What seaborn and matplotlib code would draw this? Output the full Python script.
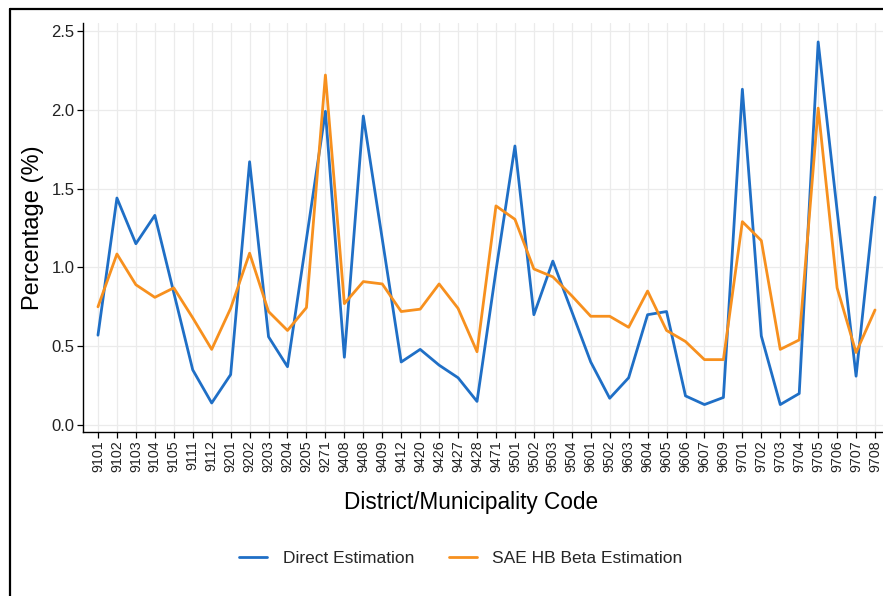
import matplotlib
matplotlib.use("Agg")
import matplotlib.pyplot as plt
from matplotlib.lines import Line2D
import seaborn as sns
import pandas as pd
import numpy as np

codes = ["9101", "9102", "9103", "9104", "9105", "9111", "9112", "9201", "9202", "9203",
         "9204", "9205", "9271", "9408", "9408", "9409", "9412", "9420", "9426", "9427",
         "9428", "9471", "9501", "9502", "9503", "9504", "9601", "9502", "9603", "9604",
         "9605", "9606", "9607", "9609", "9701", "9702", "9703", "9704", "9705", "9706",
         "9707", "9708"]

direct = [0.57, 1.44, 1.15, 1.33, 0.84, 0.35, 0.14, 0.32, 1.67, 0.56,
          0.37, 1.18, 1.99, 0.43, 1.96, 1.18, 0.40, 0.48, 0.38, 0.30,
          0.15, 0.98, 1.77, 0.70, 1.04, 0.72, 0.40, 0.17, 0.30, 0.70,
          0.72, 0.185, 0.13, 0.175, 2.13, 0.565, 0.13, 0.20, 2.43, 1.36,
          0.31, 1.445]

sae = [0.75, 1.085, 0.89, 0.81, 0.87, 0.68, 0.48, 0.74, 1.09, 0.72,
       0.60, 0.745, 2.22, 0.77, 0.91, 0.895, 0.72, 0.735, 0.895, 0.74,
       0.465, 1.39, 1.305, 0.99, 0.94, 0.82, 0.69, 0.69, 0.62, 0.85,
       0.60, 0.53, 0.415, 0.415, 1.29, 1.17, 0.48, 0.54, 2.01, 0.87,
       0.46, 0.73]

series_names = ["Direct Estimation", "SAE HB Beta Estimation"]
colors = ["#1F6FC6", "#F7901E"]
yticks = [0.0, 0.5, 1.0, 1.5, 2.0, 2.5]

idx = list(range(len(codes)))
df = pd.DataFrame({
    "idx": idx * 2,
    "value": direct + sae,
    "series": [series_names[0]] * len(codes) + [series_names[1]] * len(codes),
})

sns.set_theme(style="white")
plt.rcParams["font.family"] = ["Liberation Sans", "DejaVu Sans"]

W, H = 883, 596
fig = plt.figure(figsize=(W / 100, H / 100), dpi=100)
fig.patch.set_facecolor("white")

# axes placement in pixel terms
left_px, right_px, top_px, bottom_px = 83, 890, 23, 432
ax = fig.add_axes([left_px / W, 1 - bottom_px / H, (right_px - left_px) / W, (bottom_px - top_px) / H])

sns.lineplot(data=df, x="idx", y="value", hue="series", palette=colors,
             hue_order=series_names, linewidth=2.0, ax=ax, legend=False, sort=False)

ax.set_xlim(-0.79, len(codes) - 1 + 0.79)
ax.set_ylim(-0.044, 2.55)
ax.set_xticks(idx)
ax.set_xticklabels(codes, rotation=90, fontsize=10.3, color="#222222")
ax.set_yticks(yticks)
ax.set_yticklabels([f"{t:.1f}" for t in yticks], fontsize=12, color="#222222")

ax.grid(True, color="#EBEBEB", linewidth=0.9)
ax.set_axisbelow(True)
for s in ["top", "right"]:
    ax.spines[s].set_visible(False)
for s in ["left", "bottom"]:
    ax.spines[s].set_color("black")
    ax.spines[s].set_linewidth(1.0)
ax.tick_params(axis="both", which="major", direction="out", length=4, width=0.9,
               color="black", left=True, bottom=True, pad=2)

ax.set_xlabel("District/Municipality Code", fontsize=16.3, color="black")
ax.set_ylabel("Percentage (%)", fontsize=17, color="black")
ax.xaxis.set_label_coords((471 - left_px) / (right_px - left_px),
                          -(503 - bottom_px) / (bottom_px - top_px), transform=ax.transAxes)
ax.xaxis.label.set_va("center")
ax.yaxis.set_label_coords(-(83 - 33) / (right_px - left_px), 0.5, transform=ax.transAxes)
ax.yaxis.label.set_va("center")

handles = [Line2D([0], [0], color=c, lw=2.0) for c in colors]
fig.legend(handles, series_names, loc="center", bbox_to_anchor=(0.522, 1 - 558 / H),
           ncol=2, frameon=False, fontsize=12.5, handlelength=1.6, columnspacing=2.0,
           handletextpad=0.9)

# outer frame (screenshot border)
fig.add_artist(Line2D([10 / W, 10 / W], [0, 1 - 9 / H], color="black", lw=1.6,
                      transform=fig.transFigure))
fig.add_artist(Line2D([10 / W, 1.0], [1 - 9 / H, 1 - 9 / H], color="black", lw=1.6,
                      transform=fig.transFigure))

fig.savefig("out.png", dpi=100, facecolor="white")
